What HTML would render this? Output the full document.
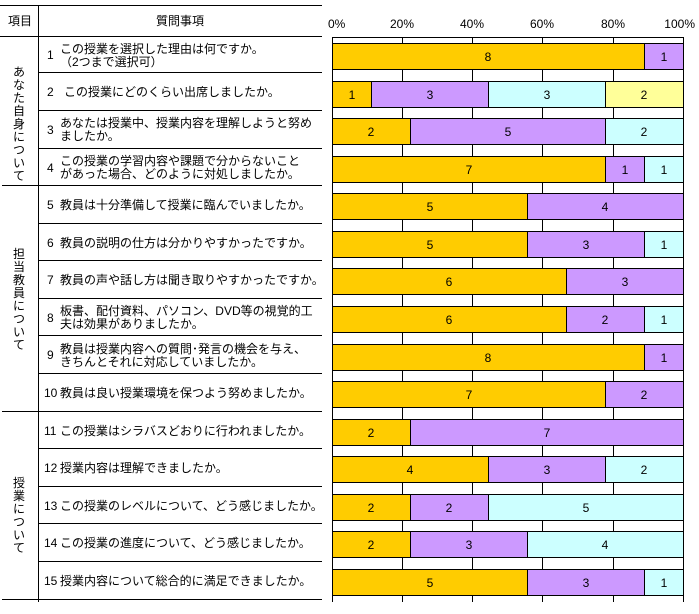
<!DOCTYPE html>
<html><head><meta charset="utf-8"><style>
html,body{margin:0;padding:0;background:#fff}
svg{display:block}
text{font-family:"Liberation Sans","Noto Sans CJK JP",sans-serif;font-size:12px;fill:#000}
.b{stroke:#000;stroke-width:1}
.o{fill:#FFCC00}.p{fill:#CC99FF}.c{fill:#CCFFFF}.y{fill:#FFFF99}
</style></head><body>
<svg width="699" height="614" viewBox="0 0 699 614">
<g stroke="#000" stroke-width="1">
<line x1="0" y1="5.5" x2="322" y2="5.5"/>
<line x1="0" y1="36.5" x2="322" y2="36.5"/>
<line x1="38.5" y1="5" x2="38.5" y2="602"/>
<line x1="38" y1="72.5" x2="322" y2="72.5"/>
<line x1="38" y1="110.5" x2="322" y2="110.5"/>
<line x1="38" y1="148.5" x2="322" y2="148.5"/>
<line x1="2" y1="185.5" x2="322" y2="185.5"/>
<line x1="38" y1="223.5" x2="322" y2="223.5"/>
<line x1="38" y1="260.5" x2="322" y2="260.5"/>
<line x1="38" y1="298.5" x2="322" y2="298.5"/>
<line x1="38" y1="335.5" x2="322" y2="335.5"/>
<line x1="38" y1="373.5" x2="322" y2="373.5"/>
<line x1="2" y1="411.5" x2="322" y2="411.5"/>
<line x1="38" y1="448.5" x2="322" y2="448.5"/>
<line x1="38" y1="486.5" x2="322" y2="486.5"/>
<line x1="38" y1="523.5" x2="322" y2="523.5"/>
<line x1="38" y1="561.5" x2="322" y2="561.5"/>
<line x1="2" y1="599.5" x2="322" y2="599.5"/>
</g>
<text x="20" y="25" text-anchor="middle">項目</text>
<text x="180" y="25" text-anchor="middle">質問事項</text>
<g text-anchor="middle">
<text x="19" y="76">あ</text><text x="19" y="89">な</text><text x="19" y="102">た</text><text x="19" y="115">自</text><text x="19" y="128">身</text><text x="19" y="141">に</text><text x="19" y="154">つ</text><text x="19" y="167">い</text><text x="19" y="180">て</text>
<text x="19" y="258">担</text><text x="19" y="271">当</text><text x="19" y="284">教</text><text x="19" y="297">員</text><text x="19" y="310">に</text><text x="19" y="323">つ</text><text x="19" y="336">い</text><text x="19" y="349">て</text>
<text x="19" y="487">授</text><text x="19" y="500">業</text><text x="19" y="513">に</text><text x="19" y="526">つ</text><text x="19" y="539">い</text><text x="19" y="552">て</text>
</g>
<text x="47" y="59">1</text><text x="60" y="53">この授業を選択した理由は何ですか。</text><text x="60" y="66">（2つまで選択可）</text>
<text x="47" y="96">2</text><text x="64" y="96">この授業にどのくらい出席しましたか。</text>
<text x="47" y="134">3</text><text x="60" y="127">あなたは授業中、授業内容を理解しようと努め</text><text x="60" y="140">ましたか。</text>
<text x="47" y="172">4</text><text x="60" y="165">この授業の学習内容や課題で分からないこと</text><text x="60" y="178">があった場合、どのように対処しましたか。</text>
<text x="47" y="209">5</text><text x="60" y="209">教員は十分準備して授業に臨んでいましたか。</text>
<text x="47" y="247">6</text><text x="60" y="247">教員の説明の仕方は分かりやすかったですか。</text>
<text x="47" y="284">7</text><text x="60" y="284">教員の声や話し方は聞き取りやすかったですか。</text>
<text x="47" y="322">8</text><text x="60" y="315">板書、配付資料、パソコン、DVD等の視覚的工</text><text x="60" y="328">夫は効果がありましたか。</text>
<text x="47" y="359">9</text><text x="60" y="353">教員は授業内容への質問･発言の機会を与え、</text><text x="60" y="366">きちんとそれに対応していましたか。</text>
<text x="44" y="397" font-size="11">10</text><text x="60" y="397">教員は良い授業環境を保つよう努めましたか。</text>
<text x="44" y="435" font-size="11">11</text><text x="60" y="435">この授業はシラバスどおりに行われましたか。</text>
<text x="44" y="472" font-size="11">12</text><text x="60" y="472">授業内容は理解できましたか。</text>
<text x="44" y="510" font-size="11">13</text><text x="60" y="510">この授業のレベルについて、どう感じましたか。</text>
<text x="44" y="547" font-size="11">14</text><text x="60" y="547">この授業の進度について、どう感じましたか。</text>
<text x="44" y="585" font-size="11">15</text><text x="60" y="585">授業内容について総合的に満足できましたか。</text>

<g font-size="11">
<text x="328" y="28">0%</text><text x="402" y="28" text-anchor="middle">20%</text><text x="472" y="28" text-anchor="middle">40%</text><text x="542" y="28" text-anchor="middle">60%</text><text x="613" y="28" text-anchor="middle">80%</text><text x="695" y="28" text-anchor="end">100%</text>
</g>
<g stroke="#000" stroke-width="1">
<line x1="332.5" y1="37.5" x2="683.5" y2="37.5"/>
<line x1="332.5" y1="37" x2="332.5" y2="602"/>
<line x1="683.5" y1="37" x2="683.5" y2="602"/>
<line x1="402.5" y1="37" x2="402.5" y2="602"/>
<line x1="472.5" y1="37" x2="472.5" y2="602"/>
<line x1="542.5" y1="37" x2="542.5" y2="602"/>
<line x1="613.5" y1="37" x2="613.5" y2="602"/>
</g>
<g class="b">
<rect class="o" x="332.5" y="43.5" width="312" height="26"/><rect class="p" x="644.5" y="43.5" width="39" height="26"/>
<rect class="o" x="332.5" y="81.5" width="39" height="26"/><rect class="p" x="371.5" y="81.5" width="117" height="26"/><rect class="c" x="488.5" y="81.5" width="117" height="26"/><rect class="y" x="605.5" y="81.5" width="78" height="26"/>
<rect class="o" x="332.5" y="118.5" width="78" height="26"/><rect class="p" x="410.5" y="118.5" width="195" height="26"/><rect class="c" x="605.5" y="118.5" width="78" height="26"/>
<rect class="o" x="332.5" y="156.5" width="273" height="26"/><rect class="p" x="605.5" y="156.5" width="39" height="26"/><rect class="c" x="644.5" y="156.5" width="39" height="26"/>
<rect class="o" x="332.5" y="193.5" width="195" height="26"/><rect class="p" x="527.5" y="193.5" width="156" height="26"/>
<rect class="o" x="332.5" y="231.5" width="195" height="26"/><rect class="p" x="527.5" y="231.5" width="117" height="26"/><rect class="c" x="644.5" y="231.5" width="39" height="26"/>
<rect class="o" x="332.5" y="268.5" width="234" height="26"/><rect class="p" x="566.5" y="268.5" width="117" height="26"/>
<rect class="o" x="332.5" y="306.5" width="234" height="26"/><rect class="p" x="566.5" y="306.5" width="78" height="26"/><rect class="c" x="644.5" y="306.5" width="39" height="26"/>
<rect class="o" x="332.5" y="344.5" width="312" height="26"/><rect class="p" x="644.5" y="344.5" width="39" height="26"/>
<rect class="o" x="332.5" y="381.5" width="273" height="26"/><rect class="p" x="605.5" y="381.5" width="78" height="26"/>
<rect class="o" x="332.5" y="419.5" width="78" height="26"/><rect class="p" x="410.5" y="419.5" width="273" height="26"/>
<rect class="o" x="332.5" y="456.5" width="156" height="26"/><rect class="p" x="488.5" y="456.5" width="117" height="26"/><rect class="c" x="605.5" y="456.5" width="78" height="26"/>
<rect class="o" x="332.5" y="494.5" width="78" height="26"/><rect class="p" x="410.5" y="494.5" width="78" height="26"/><rect class="c" x="488.5" y="494.5" width="195" height="26"/>
<rect class="o" x="332.5" y="531.5" width="78" height="26"/><rect class="p" x="410.5" y="531.5" width="117" height="26"/><rect class="c" x="527.5" y="531.5" width="156" height="26"/>
<rect class="o" x="332.5" y="569.5" width="195" height="26"/><rect class="p" x="527.5" y="569.5" width="117" height="26"/><rect class="c" x="644.5" y="569.5" width="39" height="26"/>
</g>
<g text-anchor="middle">
<text x="488" y="61">8</text><text x="664" y="61">1</text>
<text x="352" y="99">1</text><text x="430" y="99">3</text><text x="547" y="99">3</text><text x="644" y="99">2</text>
<text x="371" y="136">2</text><text x="508" y="136">5</text><text x="644" y="136">2</text>
<text x="469" y="174">7</text><text x="625" y="174">1</text><text x="664" y="174">1</text>
<text x="430" y="211">5</text><text x="605" y="211">4</text>
<text x="430" y="249">5</text><text x="586" y="249">3</text><text x="664" y="249">1</text>
<text x="449" y="286">6</text><text x="625" y="286">3</text>
<text x="449" y="324">6</text><text x="605" y="324">2</text><text x="664" y="324">1</text>
<text x="488" y="362">8</text><text x="664" y="362">1</text>
<text x="469" y="399">7</text><text x="644" y="399">2</text>
<text x="371" y="437">2</text><text x="547" y="437">7</text>
<text x="410" y="474">4</text><text x="547" y="474">3</text><text x="644" y="474">2</text>
<text x="371" y="512">2</text><text x="449" y="512">2</text><text x="586" y="512">5</text>
<text x="371" y="549">2</text><text x="469" y="549">3</text><text x="605" y="549">4</text>
<text x="430" y="587">5</text><text x="586" y="587">3</text><text x="664" y="587">1</text>
</g>
</svg>
</body></html>
